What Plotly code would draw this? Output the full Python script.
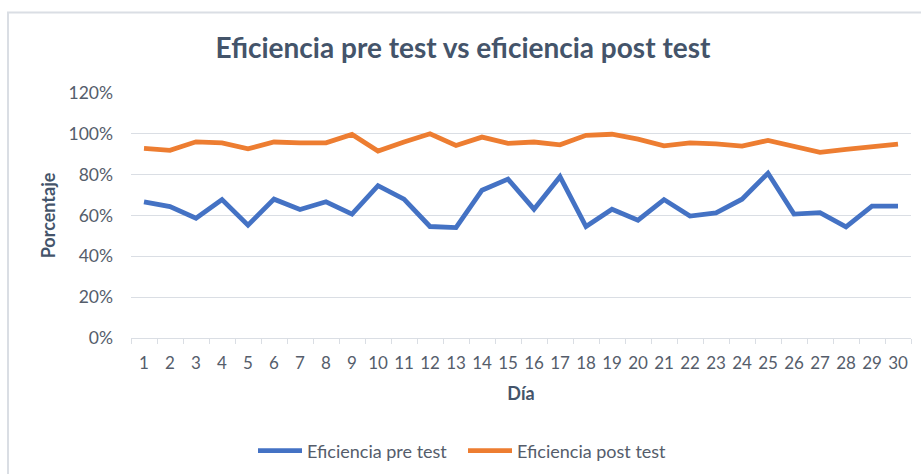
import plotly.graph_objects as go

# Days of the study
dias = [str(d) for d in range(1, 31)]

# Efficiency before and after the test (fraction of 1)
pre_test = [0.667, 0.644, 0.587, 0.678, 0.553, 0.680, 0.629, 0.667, 0.607, 0.746,
            0.680, 0.546, 0.541, 0.724, 0.778, 0.631, 0.790, 0.546, 0.631, 0.577,
            0.678, 0.597, 0.613, 0.680, 0.807, 0.607, 0.614, 0.544, 0.646, 0.646]
post_test = [0.929, 0.919, 0.961, 0.956, 0.927, 0.960, 0.956, 0.956, 0.997, 0.916,
             0.960, 1.000, 0.943, 0.984, 0.953, 0.960, 0.946, 0.993, 0.998, 0.974,
             0.941, 0.956, 0.951, 0.940, 0.968, 0.940, 0.909, 0.924, 0.935, 0.950]

FONT = "Lato"
TEXT = "#555d6b"
GRID = "#dadee4"
W, H = 921, 474
ML, MR, MT, MB = 131, 10, 93, 136

fig = go.Figure()
fig.add_trace(go.Scatter(x=dias, y=pre_test, mode="lines", name="Eficiencia pre test",
                         line=dict(color="#4472C4", width=4.8)))
fig.add_trace(go.Scatter(x=dias, y=post_test, mode="lines", name="Eficiencia post test",
                         line=dict(color="#ED7D31", width=4.8)))

# chart area border, expressed in paper coordinates
pw, ph = W - ML - MR, H - MT - MB
def px(x):
    return (x - ML) / pw
def py(y):
    return (H - MB - y) / ph

fig.add_shape(type="rect", xref="paper", yref="paper",
              x0=px(8), x1=px(940), y0=py(490), y1=py(12.5),
              line=dict(color=GRID, width=2), fillcolor="rgba(0,0,0,0)", layer="below")

fig.update_layout(
    width=W, height=H,
    margin=dict(l=ML, r=MR, t=MT, b=MB, autoexpand=False),
    paper_bgcolor="white", plot_bgcolor="white",
    font=dict(family=FONT, color=TEXT),
    title=dict(text="<b>Eficiencia pre test vs eficiencia post test</b>",
               x=463 / W, xanchor="center", xref="container",
               y=1 - 48 / H, yanchor="middle", yref="container",
               font=dict(family=FONT, size=28, color="#44546A")),
    showlegend=True,
    legend=dict(orientation="h", x=253 / W, xanchor="left", xref="container",
                y=1 - 451 / H, yanchor="middle", yref="container",
                font=dict(family=FONT, size=18, color=TEXT),
                itemwidth=44, entrywidth=151, bgcolor="rgba(0,0,0,0)"),
    xaxis=dict(type="category", range=[-0.5, 29.5], automargin=False,
               showgrid=False, showline=True, linecolor=GRID, linewidth=1,
               ticks="outside", tickson="boundaries", ticklen=5, tickcolor=GRID,
               tickangle=0, ticklabelstandoff=10,
               tickfont=dict(family=FONT, size=17, color=TEXT),
               title=dict(text="<b>Día</b>", font=dict(family=FONT, size=18, color="#44546A"),
                          standoff=14),
               fixedrange=True),
    yaxis=dict(range=[0, 1.2], dtick=0.2, tickformat=".0%", automargin=False,
               showgrid=True, gridcolor=GRID, gridwidth=1,
               zeroline=False, showline=False,
               tickfont=dict(family=FONT, size=17.5, color=TEXT),
               ticklabelstandoff=17,
               title=dict(text="<b>Porcentaje</b>", font=dict(family=FONT, size=18, color="#44546A"),
                          standoff=8),
               fixedrange=True),
)

fig.write_html("out.html", config={"displayModeBar": False})
